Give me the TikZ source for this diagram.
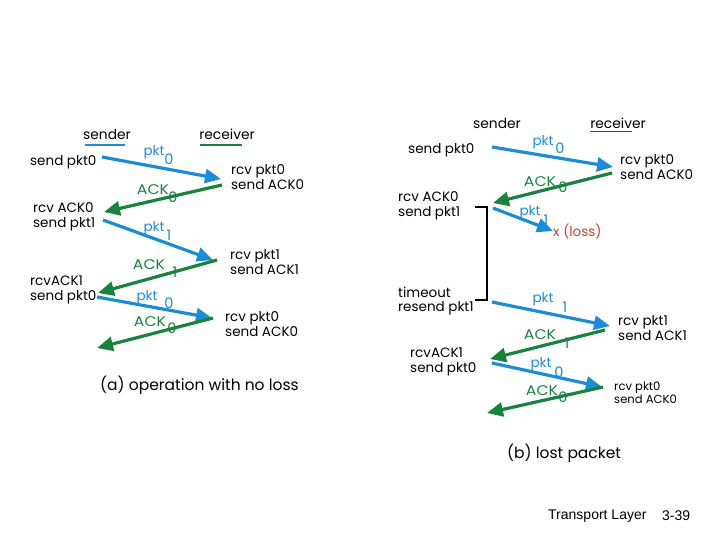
\documentclass[tikz,border=0pt]{standalone}
\usepackage{fontspec}
\setmainfont{Poppins}
\newfontfamily\widef[FakeStretch=1.12]{Poppins}
\newfontfamily\arialf{Liberation Sans}
\usetikzlibrary{arrows.meta}
\definecolor{pblue}{RGB}{28,140,214}
\definecolor{agreen}{RGB}{24,130,62}
\definecolor{lossred}{RGB}{200,66,52}
\begin{document}
\begin{tikzpicture}[x=1pt,y=-1pt,
  txt/.style={anchor=west, inner sep=0pt, align=left, font=\fontsize{13.5}{14.5}\selectfont},
  smalltxt/.style={anchor=west, inner sep=0pt, align=left, font=\fontsize{11.6}{13}\selectfont},
  hdr/.style={inner sep=0pt, font=\fontsize{13.8}{15}\selectfont},
  captxt/.style={anchor=west, inner sep=0pt, font=\fontsize{15.5}{17}\selectfont},
  plab/.style={inner sep=0pt, text=pblue, font=\fontsize{13.5}{14}\selectfont},
  alab/.style={inner sep=0pt, text=agreen, font=\widef\fontsize{14}{14}\selectfont},
  pnum/.style={inner sep=0pt, text=pblue, font=\fontsize{14.5}{14}\selectfont},
  anum/.style={inner sep=0pt, text=agreen, font=\fontsize{14.5}{14}\selectfont},
  pktarr/.style={draw=pblue, line width=3.2pt, -{Triangle[length=16pt,width=14pt,fill=pblue]}},
  ackarr/.style={draw=agreen, line width=3.2pt, -{Triangle[length=16pt,width=14pt,fill=agreen]}},
  ulbl/.style={draw=pblue, line width=2pt},
  ulgr/.style={draw=agreen, line width=2pt},
  ulbk/.style={draw=black!70, line width=1pt},
  brk/.style={draw=black, line width=1.6pt}
]
\useasboundingbox (0,0) rectangle (720,540);

% ---------------- panel (a) ----------------
\node[hdr] (aS) at (107,134) {sender};
\node[hdr] (aR) at (227,134) {receiver};
\coordinate (aSu1) at (85,145); \coordinate (aSu2) at (125,145);
\coordinate (aRu1) at (200,145); \coordinate (aRu2) at (242,145);
\draw[ulbl] (aSu1) -- (aSu2);
\draw[ulgr] (aRu1) -- (aRu2);

\node[txt] (a1) at (30,162) {send pkt0};
\node[txt] (a2) at (231,177) {rcv pkt0\\send ACK0};
\node[txt] (a3) at (33,217) {rcv ACK0\\send pkt1};
\node[txt] (a4) at (230,262) {rcv pkt1\\send ACK1};
\node[txt] (a5) at (30,290) {rcvACK1\\send pkt0};
\node[txt] (a6) at (225,324) {rcv pkt0\\send ACK0};
\node[captxt] (acap) at (100,385) {(a) operation with no loss};

\coordinate (ap1s) at (102,157); \coordinate (ap1e) at (221,179);
\coordinate (aa1s) at (222,185); \coordinate (aa1e) at (104,212);
\coordinate (ap2s) at (103,220); \coordinate (ap2e) at (213,260);
\coordinate (aa2s) at (217,260); \coordinate (aa2e) at (98,293);
\coordinate (ap3s) at (97,297);  \coordinate (ap3e) at (212,318);
\coordinate (aa3s) at (213,318); \coordinate (aa3e) at (97,348);
\draw[pktarr] (ap1s) -- (ap1e);
\draw[ackarr] (aa1s) -- (aa1e);
\draw[pktarr] (ap2s) -- (ap2e);
\draw[ackarr] (aa2s) -- (aa2e);
\draw[pktarr] (ap3s) -- (ap3e);
\draw[ackarr] (aa3s) -- (aa3e);

\node[plab] (al1) at (154,152) {pkt};  \node[pnum] (al1n) at (169,159) {0};
\node[alab] (al2) at (153,190) {ACK};  \node[anum] (al2n) at (173,197) {0};
\node[plab] (al3) at (154,228) {pkt};  \node[pnum] (al3n) at (169,235) {1};
\node[alab] (al4) at (149,265) {ACK};  \node[anum] (al4n) at (175,272) {1};
\node[plab] (al5) at (147,297) {pkt};  \node[pnum] (al5n) at (169,303) {0};
\node[alab] (al6) at (150,322) {ACK};  \node[anum] (al6n) at (172,328) {0};

% ---------------- panel (b) ----------------
\node[hdr] (bS) at (497,123) {sender};
\node[hdr] (bR) at (618,123) {receiver};
\coordinate (bRu1) at (590,132); \coordinate (bRu2) at (632,132);
\draw[ulbk] (bRu1) -- (bRu2);

\node[txt] (b1) at (408,150) {send pkt0};
\node[txt] (b2) at (620,167) {rcv pkt0\\send ACK0};
\node[txt] (b3) at (398,206) {rcv ACK0\\send pkt1};
\node[txt, text=lossred] (bloss) at (553,231) {x (loss)};
\node[txt] (b4) at (398,301) {timeout\\resend pkt1};
\node[txt] (b5) at (618,328) {rcv pkt1\\send ACK1};
\node[txt] (b6) at (410,362) {rcvACK1\\send pkt0};
\node[smalltxt] (b7) at (614,393) {rcv pkt0\\send ACK0};
\node[captxt] (bcap) at (507,453) {(b) lost packet};

\coordinate (bt1) at (475,207); \coordinate (bt2) at (487,207);
\coordinate (bt3) at (487,300); \coordinate (bt4) at (475,300);
\draw[brk] (bt1) -- (bt2) -- (bt3) -- (bt4);

\coordinate (bp1s) at (492,147); \coordinate (bp1e) at (613,167);
\coordinate (ba1s) at (612,173); \coordinate (ba1e) at (493,203);
\coordinate (bp2s) at (493,208);
\coordinate (bp3s) at (492,302); \coordinate (bp3e) at (610,326);
\coordinate (ba3s) at (605,330); \coordinate (ba3e) at (490,359);
\coordinate (bp4s) at (492,363); \coordinate (bp4e) at (602,387);
\coordinate (ba4s) at (603,387); \coordinate (ba4e) at (487,413);
\draw[pktarr] (bp1s) -- (bp1e);
\draw[ackarr] (ba1s) -- (ba1e);
\draw[pktarr] (bp2s) -- (bloss.west);
\draw[pktarr] (bp3s) -- (bp3e);
\draw[ackarr] (ba3s) -- (ba3e);
\draw[pktarr] (bp4s) -- (bp4e);
\draw[ackarr] (ba4s) -- (ba4e);

\node[plab] (bl1) at (543,142) {pkt};  \node[pnum] (bl1n) at (560,148) {0};
\node[alab] (bl2) at (540,182) {ACK};  \node[anum] (bl2n) at (563,187) {0};
\node[plab] (bl3) at (530,212) {pkt};  \node[pnum] (bl3n) at (546,220) {1};
\node[plab] (bl4) at (543,299) {pkt};  \node[pnum] (bl4n) at (565,307) {1};
\node[alab] (bl5) at (540,335) {ACK};  \node[anum] (bl5n) at (567,343) {1};
\node[plab] (bl6) at (541,364) {pkt};  \node[pnum] (bl6n) at (559,372) {0};
\node[alab] (bl7) at (542,391) {ACK};  \node[anum] (bl7n) at (563,397) {0};

% footer
\node[anchor=west, inner sep=0pt, font=\arialf\fontsize{14}{16}\selectfont] (foot) at (548,516) {Transport Layer};
\node[anchor=west, inner sep=0pt, font=\arialf\fontsize{14}{16}\selectfont] (pg) at (662,516) {3-39};
\end{tikzpicture}
\end{document}
